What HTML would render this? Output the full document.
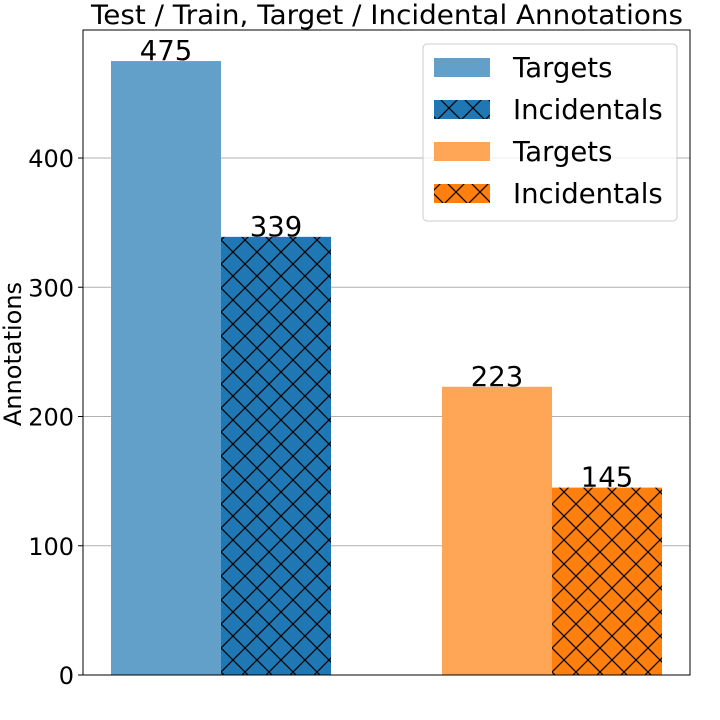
<!DOCTYPE html>
<html><head><meta charset="utf-8"><style>body{margin:0;background:#fff}svg{display:block;font-family:"DejaVu Sans","Liberation Sans",sans-serif}</style></head>
<body>
<svg id="chart" width="720" height="720" viewBox="0 0 720 720" xmlns="http://www.w3.org/2000/svg">
<defs>
<pattern id="hb" patternUnits="userSpaceOnUse" width="24" height="24" x="221" y="0"><rect width="24" height="24" fill="#1f77b4"/><path d="M0,0L24,24M24,0L0,24" stroke="#000" stroke-width="1.2"/></pattern>
<pattern id="ho" patternUnits="userSpaceOnUse" width="24" height="24" x="552" y="0"><rect width="24" height="24" fill="#ff7f0e"/><path d="M0,0L24,24M24,0L0,24" stroke="#000" stroke-width="1.2"/></pattern>
</defs>
<g id="grid"></g>
<g id="bars"></g>
<rect x="83" y="30" width="607" height="645" fill="none" stroke="#000" stroke-width="1"/>
<g id="yticks"></g>
<text x="387" y="24" font-size="27" text-anchor="middle" textLength="592" lengthAdjust="spacingAndGlyphs">Test / Train, Target / Incidental Annotations</text>
<text transform="translate(21,354) rotate(-90)" font-size="24" text-anchor="middle">Annotations</text>
<g>
<rect x="423" y="44" width="254" height="177" rx="4" fill="#fff" fill-opacity="0.8" stroke="#ccc"/>
<g><rect x="434" y="58" width="56" height="19" fill="#62a0ca"/><text x="513" y="77" font-size="27.5">Targets</text></g>
<g><rect x="434" y="100" width="56" height="19" fill="url(#hb)"/><text x="513" y="119" font-size="27.5">Incidentals</text></g>
<g><rect x="434" y="142" width="56" height="19" fill="#ffa556"/><text x="513" y="161" font-size="27.5">Targets</text></g>
<g><rect x="434" y="184" width="56" height="19" fill="url(#ho)"/><text x="513" y="203" font-size="27.5">Incidentals</text></g>
</g>
</svg>
<script>
const categories = ["Test Targets","Test Incidentals","Train Targets","Train Incidentals"];
const values = [475, 339, 223, 145];
const yTicks = [0, 100, 200, 300, 400];
const NS = "http://www.w3.org/2000/svg";
const y = v => 675 - v * 1.2925;
const barX = [111, 221, 442, 552];
const fills = ["#62a0ca","url(#hb)","#ffa556","url(#ho)"];
const grid = document.getElementById('grid'), bars = document.getElementById('bars'), yt = document.getElementById('yticks');
yTicks.forEach(t => {
  if (t > 0) {
    const l = document.createElementNS(NS,'line');
    
    
    l.setAttribute('x1',83); l.setAttribute('x2',690); l.setAttribute('y1',y(t)); l.setAttribute('y2',y(t));
    l.setAttribute('stroke','#b0b0b0'); l.setAttribute('stroke-width','1');
    grid.appendChild(l);
  }
  const tk = document.createElementNS(NS,'line');
  
  
  tk.setAttribute('x1',78); tk.setAttribute('x2',83); tk.setAttribute('y1',y(t)); tk.setAttribute('y2',y(t)); tk.setAttribute('stroke','#000');
  yt.appendChild(tk);
  const tx = document.createElementNS(NS,'text');
  
  
  tx.setAttribute('x',74); tx.setAttribute('y',y(t)+9); tx.setAttribute('font-size','24'); tx.setAttribute('text-anchor','end');
  tx.textContent = t;
  yt.appendChild(tx);
});
values.forEach((v,i) => {
  const r = document.createElementNS(NS,'rect');
  
  
  r.setAttribute('x',barX[i]); r.setAttribute('width',110); r.setAttribute('y',y(v)); r.setAttribute('height',675-y(v));
  r.setAttribute('fill',fills[i]);
  bars.appendChild(r);
  const t = document.createElementNS(NS,'text');
  
  
  t.setAttribute('x',barX[i]+55); t.setAttribute('y',y(v)-1); t.setAttribute('font-size','27.5'); t.setAttribute('text-anchor','middle');
  t.textContent = v;
  bars.appendChild(t);
});
</script>
</body></html>
